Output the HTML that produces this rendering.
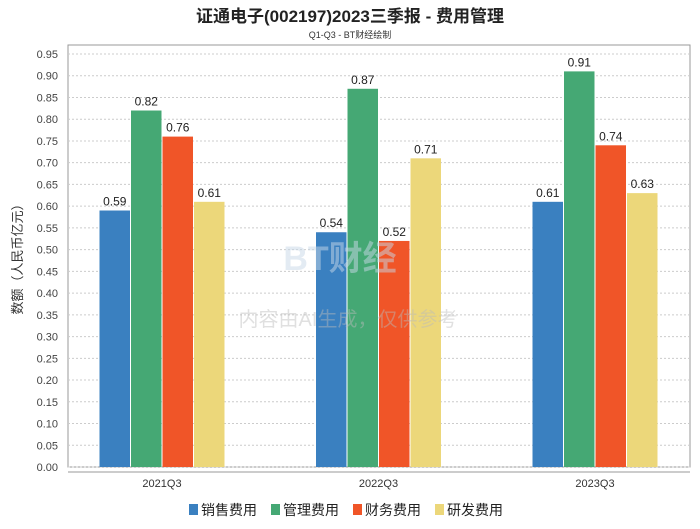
<!DOCTYPE html>
<html><head><meta charset="utf-8"><style>
body{margin:0;background:#fff;}
svg text{font-family:"Liberation Sans","Noto Sans CJK SC",sans-serif;}
</style></head><body>
<svg id="c" width="700" height="524" xmlns="http://www.w3.org/2000/svg">
<text x="350" y="22" text-anchor="middle" font-size="17" font-weight="bold" fill="#222">证通电子(002197)2023三季报 - 费用管理</text>
<text x="350" y="38" text-anchor="middle" font-size="9" fill="#333">Q1-Q3 - BT财经绘制</text>
<rect x="68" y="45" width="622" height="422" fill="#fff" stroke="#999"/>
<line x1="68" y1="472" x2="690" y2="472" stroke="#999"/>
<text transform="translate(22,256) rotate(-90)" text-anchor="middle" font-size="13" fill="#333">数额（人民币亿元）</text>
<g id="grid"></g><g id="bars"></g>
<text x="340" y="270" text-anchor="middle" font-size="34" font-weight="bold" fill="#c8d8e8" opacity="0.5">BT财经</text>
<text x="348" y="326" text-anchor="middle" font-size="20" fill="#bbb" opacity="0.45">内容由AI生成，仅供参考</text>
<g>
<rect x="189" y="504" width="9" height="11" fill="#3a80c0"/><text x="201" y="515" font-size="14" fill="#222">销售费用</text>
<rect x="271" y="504" width="9" height="11" fill="#45a874"/><text x="283" y="515" font-size="14" fill="#222">管理费用</text>
<rect x="353" y="504" width="9" height="11" fill="#f05528"/><text x="365" y="515" font-size="14" fill="#222">财务费用</text>
<rect x="435" y="504" width="9" height="11" fill="#ecd77a"/><text x="447" y="515" font-size="14" fill="#222">研发费用</text>
</g>
</svg>
<script>
const categories=["2021Q3","2022Q3","2023Q3"];
const sales=[0.59,0.54,0.61];
const admin=[0.82,0.87,0.91];
const finance=[0.76,0.52,0.74];
const rd=[0.61,0.71,0.63];
const yTicks=[0,0.05,0.1,0.15,0.2,0.25,0.3,0.35,0.4,0.45,0.5,0.55,0.6,0.65,0.7,0.75,0.8,0.85,0.9,0.95];
const NS="http://www.w3.org/2000/svg";
const y=v=>467-v*(413/0.95);
const xc=i=>162+i*216.5;
const g=document.getElementById('grid'),b=document.getElementById('bars');
function mk(p,t,a){const e=document.createElementNS(NS,t);for(const k in a)e.setAttribute(k,a[k]);p.appendChild(e);return e;}
yTicks.forEach(v=>{
 const l=mk(g,'line',{x1:68,x2:690,y1:y(v),y2:y(v),stroke:'#ccc','stroke-dasharray':'2,2'});
 
 
 const t=mk(g,'text',{x:58,y:y(v)+4,'text-anchor':'end','font-size':11,fill:'#444'});
 t.textContent=v.toFixed(2);
 
 
});
const series=[[sales,'#3a80c0','sales'],[admin,'#45a874','admin'],[finance,'#f05528','finance'],[rd,'#ecd77a','rd']];
const bw=30.5;
categories.forEach((c,i)=>{
 const t=mk(b,'text',{x:xc(i),y:487,'text-anchor':'middle','font-size':11,fill:'#333'});
 t.textContent=c;
 
 
 series.forEach((s,j)=>{
  const x0=xc(i)-2*bw-1.5+j*(bw+1);
  const v=s[0][i];
  const r=mk(b,'rect',{x:x0,y:y(v),width:bw,height:467-y(v),fill:s[1]});
  
  
  const lt=mk(b,'text',{x:x0+bw/2,y:y(v)-5,'text-anchor':'middle','font-size':12,fill:'#222'});
  lt.textContent=v.toFixed(2);
  
  
 });
});
</script>
</body></html>
